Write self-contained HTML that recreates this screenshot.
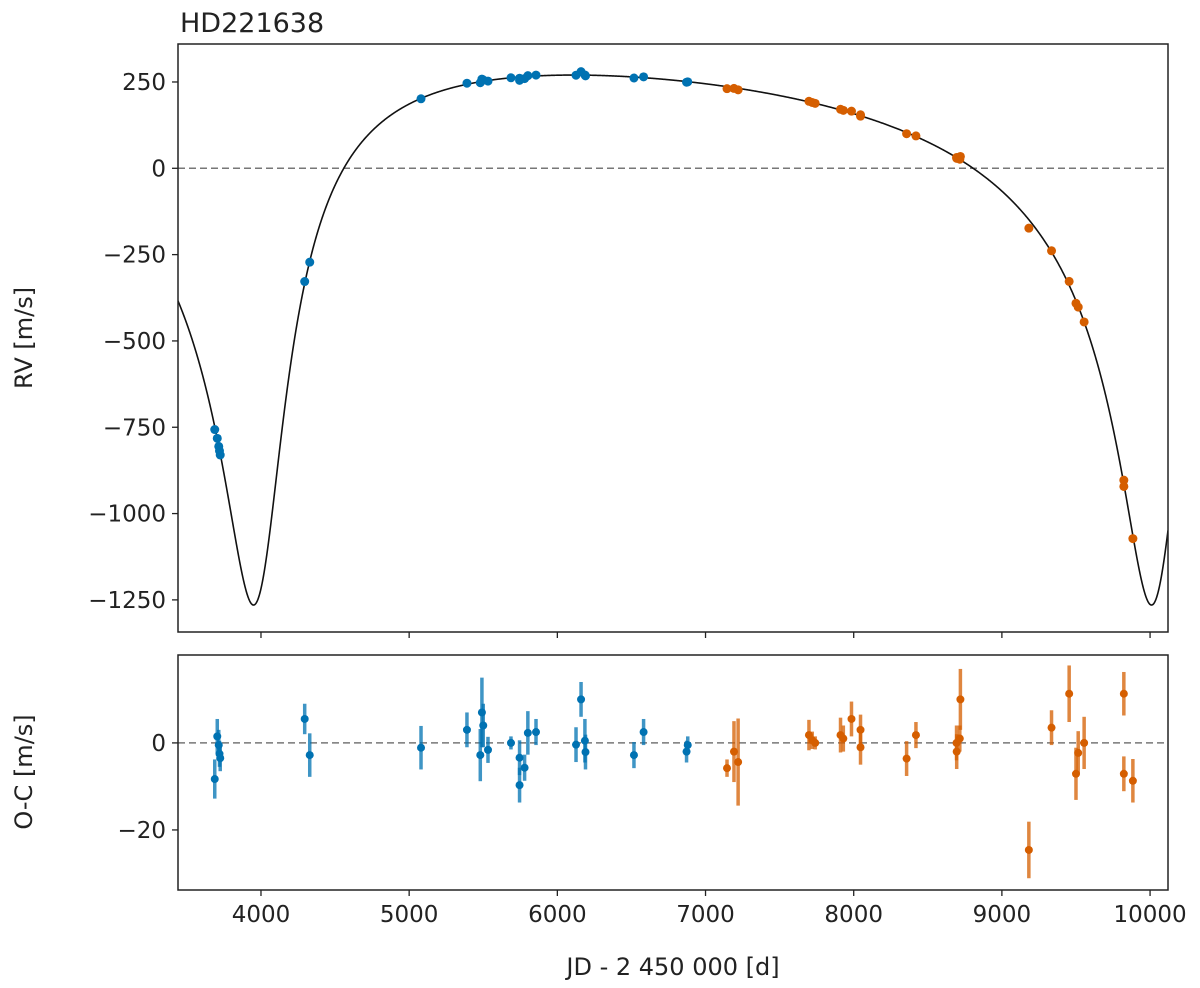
<!DOCTYPE html>
<html><head><meta charset="utf-8"><style>
html,body{margin:0;padding:0;background:#fff;}
svg{display:block;font-family:"DejaVu Sans","Liberation Sans",sans-serif;}
</style></head><body>
<svg id="chart" width="1200" height="988" viewBox="0 0 1200 988">
<text x="180" y="32" font-size="27" fill="#222">HD221638</text>
<text transform="translate(32,338) rotate(-90)" text-anchor="middle" font-size="24" fill="#222">RV [m/s]</text>
<text transform="translate(32,772) rotate(-90)" text-anchor="middle" font-size="24" fill="#222">O-C [m/s]</text>
<text x="673" y="975" text-anchor="middle" font-size="24" fill="#222">JD - 2 450 000 [d]</text>
<g id="topPanel"></g>
<g id="botPanel"></g>
</svg>
<script>
// Keplerian model parameters
const period = 6060, tPeri = 3987, ecc = 0.671, omegaDeg = 195, semiAmp = 767.5, gammaV = 0;
// Observations
const times = [3688,3705,3715,3720,3725,4295,4329,5080,5390,5480,5491,5500,5532,5687,5745,5745,5779,5801,5856,6126,6160,6186,6190,6517,6582,6872,6880,
 7145,7192,7220,7698,7720,7740,7911,7930,7985,8046,8046,8357,8420,8694,8695,8716,8720,9182,9335,9454,9500,9515,9555,9823,9823,9884];
const resid = [-8.3,1.5,-0.5,-2.5,-3.5,5.5,-2.8,-1.1,3,-2.8,7,4,-1.6,0,-3.4,-9.7,-5.7,2.3,2.5,-0.4,10,0.5,-2.1,-2.8,2.5,-2,-0.5,
 -5.8,-2,-4.4,1.8,0.6,0,1.8,1,5.5,3,-1,-3.6,1.8,0,-2,1,10,-24.6,3.5,11.3,-7.1,-2.3,0,11.3,-7.1,-8.7];
const errs = [4.5,4,3.5,3,3,3.5,5,5,4,6,8,5,3,1.5,4,4,3,5,3,4,4,5,4,3,3,2.5,2,
 2,7,10,3.5,2,1.5,4,3,4,3.5,4,4,3,4,4,3,7,6.5,4,6.5,6,5,6,5,4,5];
const inst = [0,0,0,0,0,0,0,0,0,0,0,0,0,0,0,0,0,0,0,0,0,0,0,0,0,0,0,
 1,1,1,1,1,1,1,1,1,1,1,1,1,1,1,1,1,1,1,1,1,1,1,1,1,1];
const rvTicks = [250,0,-250,-500,-750,-1000,-1250];
const ocTicks = [0,-20];
const xTicks = [4000,5000,6000,7000,8000,9000,10000];

const NS='http://www.w3.org/2000/svg';
const colors=['#0072b2','#d55e00'];
const L=178,R=1168, T1=44,B1=632, T2=655,B2=890;
const xmin=3440,xmax=10121;
const X=v=>L+(v-xmin)/(xmax-xmin)*(R-L);
const Y1=v=>T1+(360-v)/(360+1343)*(B1-T1);
const Y2=v=>T2+(20.2-v)/(20.2+33.8)*(B2-T2);
function el(tag,attrs,parent){const e=document.createElementNS(NS,tag);for(const k in attrs)e.setAttribute(k,attrs[k]);parent.appendChild(e);return e;}
function model(t){
  const M=2*Math.PI*((t-tPeri)/period);
  let E=M; for(let i=0;i<50;i++){E=E-(E-ecc*Math.sin(E)-M)/(1-ecc*Math.cos(E));}
  const nu=2*Math.atan2(Math.sqrt(1+ecc)*Math.sin(E/2),Math.sqrt(1-ecc)*Math.cos(E/2));
  const w=omegaDeg*Math.PI/180;
  return semiAmp*(Math.cos(nu+w)+ecc*Math.cos(w))+gammaV;
}
const topG=document.getElementById('topPanel'), botG=document.getElementById('botPanel');
const svgEl=document.getElementById('chart');
const cp=el('clipPath',{id:'c1'},svgEl); el('rect',{x:L,y:T1,width:R-L,height:B1-T1},cp);
const cp2=el('clipPath',{id:'c2'},svgEl); el('rect',{x:L,y:T2,width:R-L,height:B2-T2},cp2);
let z=el('line',{x1:L,x2:R,y1:Y1(0),y2:Y1(0),stroke:'#777','stroke-width':1.5,'stroke-dasharray':'7,4'},topG);


z=el('line',{x1:L,x2:R,y1:Y2(0),y2:Y2(0),stroke:'#777','stroke-width':1.5,'stroke-dasharray':'7,4'},botG);


let d='';
for(let i=0;i<=3000;i++){const t=xmin+(xmax-xmin)*i/3000;d+=(i?'L':'M')+X(t).toFixed(2)+','+Y1(model(t)).toFixed(2);}
const curve=el('path',{d:d,fill:'none',stroke:'#111','stroke-width':1.6,'clip-path':'url(#c1)'},topG);


for(let i=0;i<times.length;i++){
  const c=colors[inst[i]], t=times[i], rv=model(t)+resid[i];
  const g1=el('g',{},topG);
  
  
  el('line',{x1:X(t),x2:X(t),y1:Y1(rv-errs[i]),y2:Y1(rv+errs[i]),stroke:c,'stroke-width':3.5,opacity:0.7},g1);
  el('circle',{cx:X(t),cy:Y1(rv),r:4.5,fill:c},g1);
  const g2=el('g',{'clip-path':'url(#c2)'},botG);
  
  
  el('line',{x1:X(t),x2:X(t),y1:Y2(resid[i]-errs[i]),y2:Y2(resid[i]+errs[i]),stroke:c,'stroke-width':3.5,opacity:0.75},g2);
  el('circle',{cx:X(t),cy:Y2(resid[i]),r:4,fill:c},g2);
}
let f=el('rect',{x:L,y:T1,width:R-L,height:B1-T1,fill:'none',stroke:'#222','stroke-width':1.5},topG);


f=el('rect',{x:L,y:T2,width:R-L,height:B2-T2,fill:'none',stroke:'#222','stroke-width':1.5},botG);


rvTicks.forEach(v=>{
  el('line',{x1:L-6,x2:L,y1:Y1(v),y2:Y1(v),stroke:'#222','stroke-width':1.3},topG);
  const tx=el('text',{x:L-12,y:Y1(v)+8,'text-anchor':'end','font-size':23,fill:'#222'},topG);
  tx.textContent=v<0?'\u2212'+(-v):String(v);
  
  
});
ocTicks.forEach(v=>{
  el('line',{x1:L-6,x2:L,y1:Y2(v),y2:Y2(v),stroke:'#222','stroke-width':1.3},botG);
  const tx=el('text',{x:L-12,y:Y2(v)+8,'text-anchor':'end','font-size':23,fill:'#222'},botG);
  tx.textContent=v<0?'\u2212'+(-v):String(v);
  
  
});
xTicks.forEach(v=>{
  el('line',{x1:X(v),x2:X(v),y1:B1,y2:B1+6,stroke:'#222','stroke-width':1.3},topG);
  el('line',{x1:X(v),x2:X(v),y1:B2,y2:B2+6,stroke:'#222','stroke-width':1.3},botG);
  const tx=el('text',{x:X(v),y:B2+32,'text-anchor':'middle','font-size':23,fill:'#222'},botG);
  tx.textContent=String(v);
  
  
});
</script>
</body></html>
